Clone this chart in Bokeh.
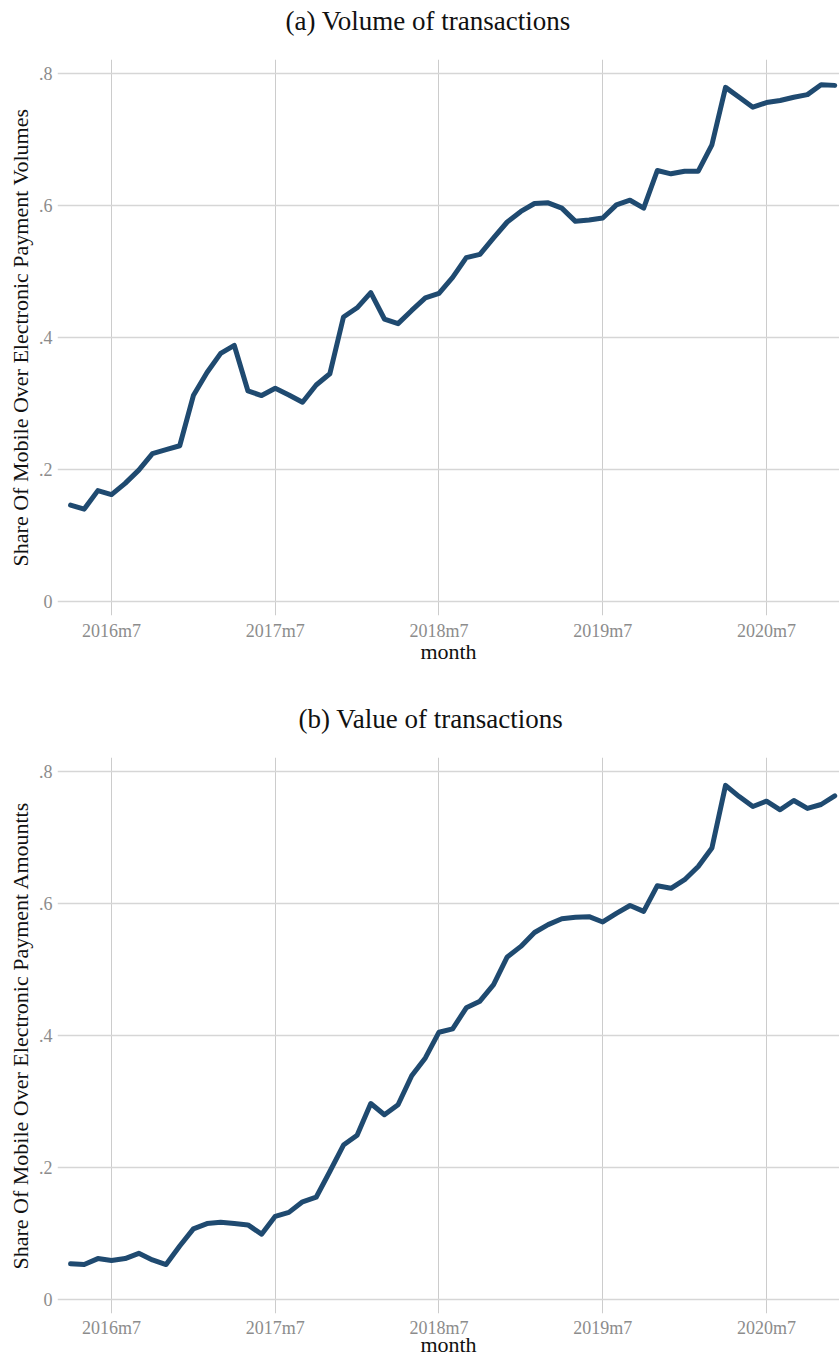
from bokeh.plotting import figure
from bokeh.models import ColumnDataSource, FixedTicker, Title
from bokeh.layouts import column
from bokeh.embed import file_html
from bokeh.resources import INLINE

# ---- data -------------------------------------------------------------
months = [f"{y}m{m}" for y in range(2016, 2021) for m in range(1, 13)][3:]  # 2016m4 .. 2020m12

volume_share = [0.146, 0.140, 0.168, 0.162, 0.179, 0.199, 0.224, 0.230, 0.236, 0.312,
                0.347, 0.376, 0.388, 0.319, 0.312, 0.323, 0.313, 0.302, 0.328, 0.345,
                0.431, 0.445, 0.468, 0.428, 0.421, 0.441, 0.460, 0.467, 0.491, 0.521,
                0.526, 0.551, 0.575, 0.591, 0.603, 0.604, 0.596, 0.576, 0.578, 0.581,
                0.601, 0.608, 0.596, 0.653, 0.648, 0.652, 0.652, 0.692, 0.779, 0.764,
                0.749, 0.756, 0.759, 0.764, 0.768, 0.783, 0.782]

amount_share = [0.054, 0.053, 0.062, 0.059, 0.062, 0.070, 0.060, 0.053, 0.081, 0.107,
                0.115, 0.117, 0.115, 0.113, 0.099, 0.126, 0.132, 0.148, 0.155, 0.194,
                0.234, 0.249, 0.297, 0.280, 0.295, 0.339, 0.366, 0.405, 0.410, 0.442,
                0.452, 0.477, 0.519, 0.535, 0.556, 0.568, 0.577, 0.579, 0.580, 0.572,
                0.585, 0.597, 0.588, 0.627, 0.623, 0.636, 0.656, 0.684, 0.779, 0.762,
                0.747, 0.755, 0.742, 0.756, 0.744, 0.750, 0.763]

x_tick_labels = ["2016m7", "2017m7", "2018m7", "2019m7", "2020m7"]
y_ticks = [0, 0.2, 0.4, 0.6, 0.8]
y_tick_labels = ["0", ".2", ".4", ".6", ".8"]

titles = ["(a) Volume of transactions", "(b) Value of transactions"]
y_labels = ["Share Of Mobile Over Electronic Payment Volumes",
            "Share Of Mobile Over Electronic Payment Amountts"]

# ---- styling ----------------------------------------------------------
FONT = "Liberation Serif"
LINE_COLOR = "#1f4a70"
TICK_GREY = "#8c8c8c"

x_idx = list(range(len(months)))
x_tick_pos = [months.index(lbl) for lbl in x_tick_labels]


def make_panel(title, ylabel, values, height, top, bottom, title_left,
               tick_standoff, xlabel_standoff):
    src = ColumnDataSource(dict(x=x_idx, y=values))
    p = figure(width=839, height=height, output_backend="svg", toolbar_location=None,
               x_range=(-0.957, 56.35), y_range=(-0.0212, 0.8212),
               min_border_left=57, min_border_right=0,
               min_border_top=top, min_border_bottom=bottom,
               title=None)

    spacer = Title(text=" ", text_font_size="1px", standoff=18)
    p.add_layout(spacer, "above")
    t = Title(text=title, text_font=FONT, text_font_size="27px", text_font_style="normal",
              text_color="#111111", align="left", standoff=6, offset=title_left)
    p.add_layout(t, "above")

    p.line("x", "y", source=src, line_color=LINE_COLOR, line_width=5,
           line_join="round", line_cap="round")

    p.outline_line_color = None
    p.background_fill_color = "white"
    p.border_fill_color = "white"

    p.xaxis.ticker = FixedTicker(ticks=x_tick_pos)
    p.xaxis.major_label_overrides = {pos: lbl for pos, lbl in zip(x_tick_pos, x_tick_labels)}
    p.yaxis.ticker = FixedTicker(ticks=y_ticks)
    p.yaxis.major_label_overrides = {v: l for v, l in zip(y_ticks, y_tick_labels)}

    for ax in (p.xaxis, p.yaxis):
        ax.axis_line_color = None
        ax.major_tick_line_color = None
        ax.minor_tick_line_color = None
        ax.major_tick_out = 0
        ax.major_tick_in = 0
        ax.minor_tick_out = 0
        ax.major_label_text_font = FONT
        ax.major_label_text_font_size = "18px"
        ax.major_label_text_color = TICK_GREY
        ax.axis_label_text_font = FONT
        ax.axis_label_text_font_style = "normal"
        ax.axis_label_text_font_size = "22px"
        ax.axis_label_text_color = "#111111"

    p.xaxis.axis_label = "month"
    p.xaxis.major_label_standoff = tick_standoff
    p.xaxis.axis_label_standoff = xlabel_standoff
    p.yaxis.axis_label = ylabel
    p.yaxis.major_label_standoff = 5
    p.yaxis.axis_label_standoff = 3

    p.xgrid.grid_line_color = "#cccccc"
    p.xgrid.grid_line_width = 1
    p.ygrid.grid_line_color = "#d6d6d6"
    p.ygrid.grid_line_width = 1.5
    return p


p1 = make_panel(titles[0], y_labels[0], volume_share, 692, 59, 77, 228, 5, -5)
p2 = make_panel(titles[1], y_labels[1], amount_share, 667, 65, 46, 241, 4, -9)

p = column(p1, p2, spacing=0)
open("out.html", "w").write(file_html(p, INLINE))
